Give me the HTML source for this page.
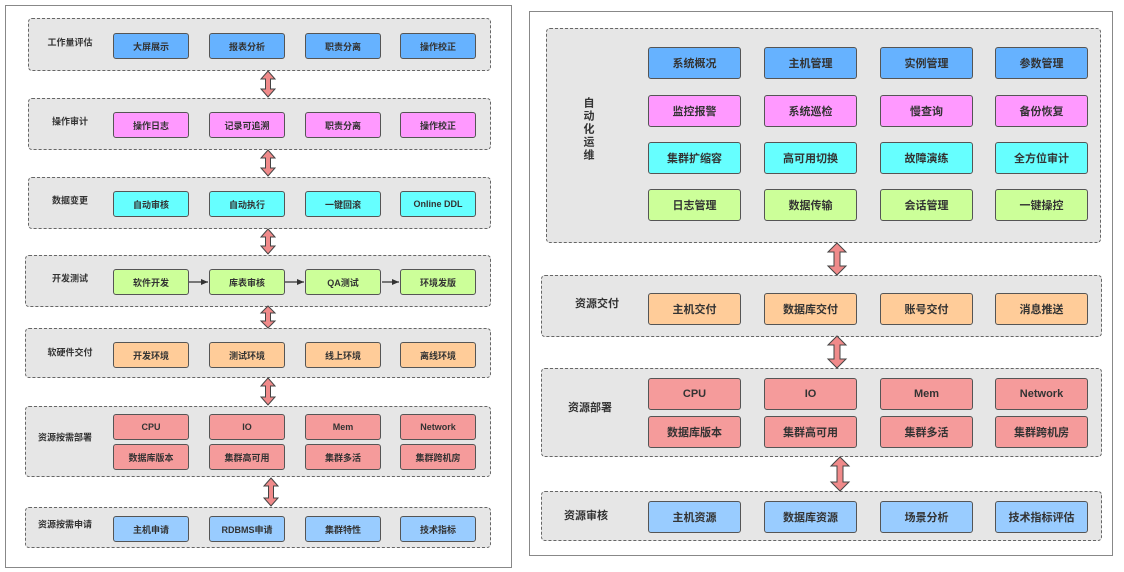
<!DOCTYPE html>
<html><head><meta charset="utf-8"><style>
body{margin:0;width:1124px;height:572px;background:#fff;position:relative;overflow:hidden;font-family:"Liberation Sans","Noto Sans CJK SC",sans-serif;}
.f{position:absolute;border:1.5px solid #888;box-sizing:border-box;}
.g{position:absolute;background:#e6e6e6;border:1.5px dashed #666;border-radius:4px;box-sizing:border-box;}
.b{position:absolute;border:1.3px solid #555;border-radius:3px;box-sizing:border-box;display:flex;align-items:center;justify-content:center;color:#333;font-weight:bold;}
.l{font-size:9px;width:76px;height:26px;}
.r{font-size:11px;width:93px;height:32px;}
.t{position:absolute;color:#333;font-weight:bold;transform:translate(-50%,-50%);white-space:nowrap;}
.bl{background:#66b2ff}.pk{background:#ff99ff}.cy{background:#66ffff}.gr{background:#ccff99}.or{background:#ffcc99}.rd{background:#f59b9b}.lb{background:#99ccff}
svg{position:absolute;left:0;top:0}
</style></head><body>
<div class="f" style="left:5px;top:5px;width:507px;height:563px"></div>
<div class="f" style="left:529px;top:11px;width:584px;height:545px"></div>

<!-- left groups -->
<div class="g" style="left:28px;top:18px;width:463px;height:53px"></div>
<div class="g" style="left:28px;top:98px;width:463px;height:52px"></div>
<div class="g" style="left:28px;top:177px;width:463px;height:52px"></div>
<div class="g" style="left:25px;top:255px;width:466px;height:52px"></div>
<div class="g" style="left:25px;top:328px;width:466px;height:50px"></div>
<div class="g" style="left:25px;top:406px;width:466px;height:71px"></div>
<div class="g" style="left:25px;top:507px;width:466px;height:41px"></div>

<div class="t" style="left:70px;top:42px;font-size:9px">工作量评估</div>
<div class="t" style="left:70px;top:121px;font-size:9px">操作审计</div>
<div class="t" style="left:70px;top:200px;font-size:9px">数据变更</div>
<div class="t" style="left:70px;top:278px;font-size:9px">开发测试</div>
<div class="t" style="left:70px;top:352px;font-size:9px">软硬件交付</div>
<div class="t" style="left:65px;top:437px;font-size:9px">资源按需部署</div>
<div class="t" style="left:65px;top:524px;font-size:9px">资源按需申请</div>

<div class="b l bl" style="left:113px;top:33px">大屏展示</div>
<div class="b l bl" style="left:209px;top:33px">报表分析</div>
<div class="b l bl" style="left:305px;top:33px">职责分离</div>
<div class="b l bl" style="left:400px;top:33px">操作校正</div>

<div class="b l pk" style="left:113px;top:112px">操作日志</div>
<div class="b l pk" style="left:209px;top:112px">记录可追溯</div>
<div class="b l pk" style="left:305px;top:112px">职责分离</div>
<div class="b l pk" style="left:400px;top:112px">操作校正</div>

<div class="b l cy" style="left:113px;top:191px">自动审核</div>
<div class="b l cy" style="left:209px;top:191px">自动执行</div>
<div class="b l cy" style="left:305px;top:191px">一键回滚</div>
<div class="b l cy" style="left:400px;top:191px">Online DDL</div>

<div class="b l gr" style="left:113px;top:269px">软件开发</div>
<div class="b l gr" style="left:209px;top:269px">库表审核</div>
<div class="b l gr" style="left:305px;top:269px">QA测试</div>
<div class="b l gr" style="left:400px;top:269px">环境发版</div>

<div class="b l or" style="left:113px;top:342px">开发环境</div>
<div class="b l or" style="left:209px;top:342px">测试环境</div>
<div class="b l or" style="left:305px;top:342px">线上环境</div>
<div class="b l or" style="left:400px;top:342px">离线环境</div>

<div class="b l rd" style="left:113px;top:414px">CPU</div>
<div class="b l rd" style="left:209px;top:414px">IO</div>
<div class="b l rd" style="left:305px;top:414px">Mem</div>
<div class="b l rd" style="left:400px;top:414px">Network</div>
<div class="b l rd" style="left:113px;top:444px">数据库版本</div>
<div class="b l rd" style="left:209px;top:444px">集群高可用</div>
<div class="b l rd" style="left:305px;top:444px">集群多活</div>
<div class="b l rd" style="left:400px;top:444px">集群跨机房</div>

<div class="b l lb" style="left:113px;top:516px">主机申请</div>
<div class="b l lb" style="left:209px;top:516px">RDBMS申请</div>
<div class="b l lb" style="left:305px;top:516px">集群特性</div>
<div class="b l lb" style="left:400px;top:516px">技术指标</div>

<!-- right groups -->
<div class="g" style="left:546px;top:28px;width:555px;height:215px"></div>
<div class="g" style="left:541px;top:275px;width:561px;height:62px"></div>
<div class="g" style="left:541px;top:368px;width:561px;height:89px"></div>
<div class="g" style="left:541px;top:491px;width:561px;height:50px"></div>

<div class="t" style="left:589px;top:130px;font-size:11px;line-height:13px;white-space:normal;width:12px;text-align:center">自动化运维</div>
<div class="t" style="left:597px;top:303px;font-size:11px">资源交付</div>
<div class="t" style="left:590px;top:407px;font-size:11px">资源部署</div>
<div class="t" style="left:586px;top:515px;font-size:11px">资源审核</div>

<div class="b r bl" style="left:648px;top:47px">系统概况</div>
<div class="b r bl" style="left:764px;top:47px">主机管理</div>
<div class="b r bl" style="left:880px;top:47px">实例管理</div>
<div class="b r bl" style="left:995px;top:47px">参数管理</div>

<div class="b r pk" style="left:648px;top:95px">监控报警</div>
<div class="b r pk" style="left:764px;top:95px">系统巡检</div>
<div class="b r pk" style="left:880px;top:95px">慢查询</div>
<div class="b r pk" style="left:995px;top:95px">备份恢复</div>

<div class="b r cy" style="left:648px;top:142px">集群扩缩容</div>
<div class="b r cy" style="left:764px;top:142px">高可用切换</div>
<div class="b r cy" style="left:880px;top:142px">故障演练</div>
<div class="b r cy" style="left:995px;top:142px">全方位审计</div>

<div class="b r gr" style="left:648px;top:189px">日志管理</div>
<div class="b r gr" style="left:764px;top:189px">数据传输</div>
<div class="b r gr" style="left:880px;top:189px">会话管理</div>
<div class="b r gr" style="left:995px;top:189px">一键操控</div>

<div class="b r or" style="left:648px;top:293px">主机交付</div>
<div class="b r or" style="left:764px;top:293px">数据库交付</div>
<div class="b r or" style="left:880px;top:293px">账号交付</div>
<div class="b r or" style="left:995px;top:293px">消息推送</div>

<div class="b r rd" style="left:648px;top:378px">CPU</div>
<div class="b r rd" style="left:764px;top:378px">IO</div>
<div class="b r rd" style="left:880px;top:378px">Mem</div>
<div class="b r rd" style="left:995px;top:378px">Network</div>
<div class="b r rd" style="left:648px;top:416px">数据库版本</div>
<div class="b r rd" style="left:764px;top:416px">集群高可用</div>
<div class="b r rd" style="left:880px;top:416px">集群多活</div>
<div class="b r rd" style="left:995px;top:416px">集群跨机房</div>

<div class="b r lb" style="left:648px;top:501px">主机资源</div>
<div class="b r lb" style="left:764px;top:501px">数据库资源</div>
<div class="b r lb" style="left:880px;top:501px">场景分析</div>
<div class="b r lb" style="left:995px;top:501px">技术指标评估</div>

<svg width="1124" height="572" viewBox="0 0 1124 572">
<defs><marker id="ah" markerWidth="8" markerHeight="8" refX="7" refY="3" orient="auto" markerUnits="userSpaceOnUse"><path d="M0,0 L7,3 L0,6 z" fill="#333"/></marker></defs>
<g stroke="#333" stroke-width="1.2" marker-end="url(#ah)">
<line x1="189" y1="282" x2="208" y2="282"/>
<line x1="285" y1="282" x2="304" y2="282"/>
<line x1="382" y1="282" x2="399" y2="282"/>
</g>
<g fill="#f08a8a" stroke="#444" stroke-width="1">
<polygon points="268,71 275,79 270.5,79 270.5,89 275,89 268,97 261,89 265.5,89 265.5,79 261,79"/>
<polygon points="268,150 275,158 270.5,158 270.5,168 275,168 268,176 261,168 265.5,168 265.5,158 261,158"/>
<polygon points="268,229 275,237 270.5,237 270.5,246 275,246 268,254 261,246 265.5,246 265.5,237 261,237"/>
<polygon points="268,306 275,313 270.5,313 270.5,321 275,321 268,328 261,321 265.5,321 265.5,313 261,313"/>
<polygon points="268,378 275,386 270.5,386 270.5,397 275,397 268,405 261,397 265.5,397 265.5,386 261,386"/>
<polygon points="271,478 278,486 273.5,486 273.5,498 278,498 271,506 264,498 268.5,498 268.5,486 264,486"/>
<polygon points="837,243 846,252 840,252 840,266 846,266 837,275 828,266 834,266 834,252 828,252"/>
<polygon points="837,336 846,345 840,345 840,359 846,359 837,368 828,359 834,359 834,345 828,345"/>
<polygon points="840,457 849,466 843,466 843,482 849,482 840,491 831,482 837,482 837,466 831,466"/>
</g>
</svg>
</body></html>
